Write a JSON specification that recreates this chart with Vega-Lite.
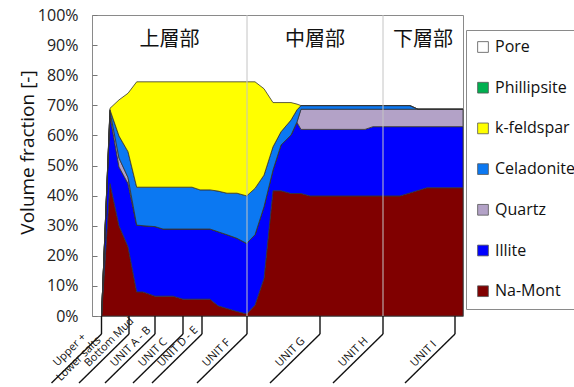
{
  "$schema": "https://vega.github.io/schema/vega-lite/v6.json",
  "width": 371,
  "height": 301,
  "autosize": {"type": "none"},
  "padding": {"left": 92, "top": 15, "right": 111, "bottom": 71},
  "background": "white",
  "resolve": {"axis": {"y": "independent"}},
  "config": {
    "view": {"stroke": "#8a8a8a", "strokeWidth": 1},
    "font": "Open Sans"
  },
  "datasets": {
    "minerals": [
      {"x": 9.5, "Na-Mont": 0, "Illite": 0, "Quartz": 0, "Celadonite": 0, "k-feldspar": 0},
      {"x": 18, "Na-Mont": 44, "Illite": 22.5, "Quartz": 1.5, "Celadonite": 0.5, "k-feldspar": 0.5},
      {"x": 27, "Na-Mont": 30, "Illite": 19.5, "Quartz": 3, "Celadonite": 7.3, "k-feldspar": 12},
      {"x": 36, "Na-Mont": 23, "Illite": 21, "Quartz": 2, "Celadonite": 8.6, "k-feldspar": 19.4},
      {"x": 44.7, "Na-Mont": 8, "Illite": 22.2, "Quartz": 0, "Celadonite": 12.6, "k-feldspar": 35},
      {"x": 51, "Na-Mont": 8, "Illite": 22, "Quartz": 0, "Celadonite": 12.8, "k-feldspar": 35},
      {"x": 63, "Na-Mont": 6.6, "Illite": 23.1, "Quartz": 0, "Celadonite": 13.1, "k-feldspar": 35},
      {"x": 71, "Na-Mont": 6.6, "Illite": 22.3, "Quartz": 0, "Celadonite": 13.9, "k-feldspar": 35},
      {"x": 81, "Na-Mont": 6.6, "Illite": 22.3, "Quartz": 0, "Celadonite": 13.9, "k-feldspar": 35},
      {"x": 91, "Na-Mont": 5.6, "Illite": 23.3, "Quartz": 0, "Celadonite": 13.9, "k-feldspar": 35},
      {"x": 100, "Na-Mont": 5.6, "Illite": 23.3, "Quartz": 0, "Celadonite": 13.9, "k-feldspar": 35},
      {"x": 108, "Na-Mont": 5.6, "Illite": 23.3, "Quartz": 0, "Celadonite": 13.0, "k-feldspar": 35.9},
      {"x": 118, "Na-Mont": 5.6, "Illite": 23.3, "Quartz": 0, "Celadonite": 13.0, "k-feldspar": 35.9},
      {"x": 126, "Na-Mont": 3.4, "Illite": 24.6, "Quartz": 0, "Celadonite": 13.5, "k-feldspar": 36.3},
      {"x": 135, "Na-Mont": 2.5, "Illite": 24.5, "Quartz": 0, "Celadonite": 13.8, "k-feldspar": 37},
      {"x": 145, "Na-Mont": 1.5, "Illite": 24.3, "Quartz": 0, "Celadonite": 15, "k-feldspar": 37},
      {"x": 154.7, "Na-Mont": 0.7, "Illite": 23.4, "Quartz": 0, "Celadonite": 15.8, "k-feldspar": 37.9},
      {"x": 163, "Na-Mont": 3.6, "Illite": 23.4, "Quartz": 0, "Celadonite": 15.4, "k-feldspar": 35.4},
      {"x": 172, "Na-Mont": 12.5, "Illite": 23.8, "Quartz": 0, "Celadonite": 10.5, "k-feldspar": 28.7},
      {"x": 181, "Na-Mont": 41.6, "Illite": 6.9, "Quartz": 0, "Celadonite": 7.7, "k-feldspar": 14.7},
      {"x": 189, "Na-Mont": 41.6, "Illite": 15.2, "Quartz": 0, "Celadonite": 4.4, "k-feldspar": 9.7},
      {"x": 199, "Na-Mont": 40.7, "Illite": 19.4, "Quartz": 0, "Celadonite": 5, "k-feldspar": 5.8},
      {"x": 205, "Na-Mont": 40.7, "Illite": 23.6, "Quartz": 0.2, "Celadonite": 4, "k-feldspar": 1.9},
      {"x": 209, "Na-Mont": 40.7, "Illite": 21.3, "Quartz": 6.7, "Celadonite": 1.2, "k-feldspar": 0},
      {"x": 218, "Na-Mont": 39.9, "Illite": 22.1, "Quartz": 6.7, "Celadonite": 1.2, "k-feldspar": 0},
      {"x": 273, "Na-Mont": 39.9, "Illite": 22.1, "Quartz": 6.7, "Celadonite": 1.2, "k-feldspar": 0},
      {"x": 281, "Na-Mont": 39.9, "Illite": 23, "Quartz": 5.8, "Celadonite": 1.2, "k-feldspar": 0},
      {"x": 308, "Na-Mont": 39.9, "Illite": 23, "Quartz": 5.8, "Celadonite": 1.2, "k-feldspar": 0},
      {"x": 318, "Na-Mont": 40.9, "Illite": 22, "Quartz": 5.8, "Celadonite": 1.2, "k-feldspar": 0},
      {"x": 326, "Na-Mont": 41.7, "Illite": 21.2, "Quartz": 5.8, "Celadonite": 0, "k-feldspar": 0},
      {"x": 335, "Na-Mont": 42.6, "Illite": 20.3, "Quartz": 5.8, "Celadonite": 0, "k-feldspar": 0},
      {"x": 371, "Na-Mont": 42.6, "Illite": 20.3, "Quartz": 5.8, "Celadonite": 0, "k-feldspar": 0}
    ],
    "units": [
      {"pos": 9.5, "label": "Upper +\nLower salts"},
      {"pos": 37, "label": "Bottom Mud"},
      {"pos": 63, "label": "UNIT A - B"},
      {"pos": 91, "label": "UNIT C"},
      {"pos": 110, "label": "UNIT D - E"},
      {"pos": 155, "label": "UNIT F"},
      {"pos": 228, "label": "UNIT G"},
      {"pos": 291, "label": "UNIT H"},
      {"pos": 363, "label": "UNIT I"}
    ],
    "sections": [
      {"name": "上層部", "start": 0, "end": 155},
      {"name": "中層部", "start": 155, "end": 291},
      {"name": "下層部", "start": 291, "end": 371}
    ]
  },
  "layer": [
    {
      "data": {"name": "minerals"},
      "transform": [
        {"fold": ["Na-Mont", "Illite", "Quartz", "Celadonite", "k-feldspar"], "as": ["mineral", "v"]},
        {"calculate": "indexof(['Na-Mont','Illite','Quartz','Celadonite','k-feldspar','Phillipsite','Pore'], datum.mineral)", "as": "rank"}
      ],
      "mark": {"type": "area", "interpolate": "linear", "stroke": "#333333", "strokeWidth": 0.8, "opacity": 1},
      "encoding": {
        "x": {"field": "x", "type": "quantitative", "scale": {"domain": [0, 371], "nice": false, "zero": false}, "axis": null},
        "y": {
          "field": "v", "type": "quantitative", "stack": "zero",
          "scale": {"domain": [0, 100], "nice": false},
          "axis": {
            "orient": "left",
            "title": "Volume fraction [-]",
            "values": [0, 10, 20, 30, 40, 50, 60, 70, 80, 90, 100],
            "labelExpr": "datum.value + '%'",
            "labelOverlap": false,
            "labelFlush": false,
            "grid": false,
            "domain": false,
            "ticks": true,
            "tickSize": -5,
            "tickColor": "#777777",
            "labelFontSize": 16,
            "labelColor": "#222222",
            "labelPadding": 19,
            "titleFontSize": 19,
            "titleFontWeight": "normal",
            "titleColor": "#111111",
            "titlePadding": 0,
            "titleY": 137
          }
        },
        "color": {
          "field": "mineral", "type": "nominal",
          "scale": {
            "domain": ["Pore", "Phillipsite", "k-feldspar", "Celadonite", "Quartz", "Illite", "Na-Mont"],
            "range": ["#FFFFFF", "#00B050", "#FFFF00", "#0B78F2", "#B3A2C7", "#0000FF", "#800000"]
          },
          "legend": {
            "title": null,
            "orient": "none",
            "legendX": 374,
            "legendY": 15,
            "padding": 9,
            "strokeColor": "#8a8a8a",
            "fillColor": "white",
            "symbolType": "square",
            "symbolSize": 115,
            "symbolStrokeColor": "#555555",
            "symbolStrokeWidth": 0.8,
            "labelFontSize": 16,
            "labelFont": "Open Sans",
            "labelColor": "#111111",
            "labelOffset": 4,
            "rowPadding": 24.7
          }
        },
        "order": {"field": "rank", "type": "quantitative"}
      }
    },
    {
      "data": {"name": "sections"},
      "transform": [{"filter": "datum.start > 0"}],
      "mark": {"type": "rule", "color": "#c4c4c4", "strokeWidth": 1},
      "encoding": {
        "x": {"field": "start", "type": "quantitative", "axis": null}
      }
    },
    {
      "data": {"name": "sections"},
      "transform": [{"calculate": "(datum.start + datum.end) / 2", "as": "mid"}],
      "mark": {"type": "text", "font": "Noto Sans CJK JP", "fontSize": 20, "color": "#111111", "baseline": "middle", "align": "center"},
      "encoding": {
        "x": {"field": "mid", "type": "quantitative", "axis": null},
        "y": {"datum": 91.7, "axis": null},
        "text": {"field": "name"}
      }
    },
    {
      "data": {"name": "units"},
      "mark": {"type": "rule", "color": "#111111", "strokeWidth": 1.4},
      "encoding": {
        "x": {"field": "pos", "type": "quantitative", "axis": null},
        "y": {"datum": 0, "axis": null},
        "y2": {"datum": -6}
      }
    },
    {
      "data": {"name": "units"},
      "transform": [{"calculate": "datum.pos - 50", "as": "end"}],
      "mark": {"type": "rule", "color": "#111111", "strokeWidth": 1.4},
      "encoding": {
        "x": {"field": "pos", "type": "quantitative", "axis": null},
        "x2": {"field": "end"},
        "y": {"datum": -6, "axis": null},
        "y2": {"datum": -22.3}
      }
    },
    {
      "data": {"name": "units"},
      "transform": [{"filter": "indexof(datum.label, '\\n') < 0"}],
      "mark": {"type": "text", "angle": -45, "align": "left", "baseline": "middle", "dx": -52, "dy": -8, "fontSize": 11, "font": "Open Sans", "color": "#111111"},
      "encoding": {
        "x": {"field": "pos", "type": "quantitative", "axis": null},
        "y": {"datum": -6, "axis": null},
        "text": {"field": "label"}
      }
    },
    {
      "data": {"name": "units"},
      "transform": [{"filter": "indexof(datum.label, '\\n') >= 0"}],
      "mark": {"type": "text", "angle": -45, "align": "center", "baseline": "middle", "dx": -33.6, "dy": -10.9, "fontSize": 11, "font": "Open Sans", "lineBreak": "\n", "lineHeight": 12.6, "color": "#111111"},
      "encoding": {
        "x": {"field": "pos", "type": "quantitative", "axis": null},
        "y": {"datum": -6, "axis": null},
        "text": {"field": "label"}
      }
    }
  ]
}
